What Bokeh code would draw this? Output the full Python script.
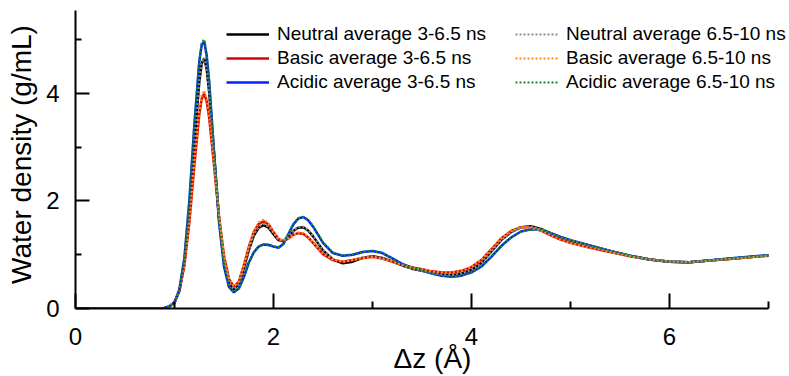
from bokeh.plotting import figure
from bokeh.models import FixedTicker, Range1d, Legend, LegendItem
from bokeh.embed import file_html
from bokeh.resources import INLINE

# Δz grid (Å)
dz = [0.0, 0.5, 0.8, 0.9, 0.95, 1.0, 1.05, 1.1, 1.15, 1.2, 1.25, 1.275, 1.3, 1.325, 1.35,
      1.4, 1.45, 1.5, 1.55, 1.6, 1.65, 1.7, 1.75, 1.8, 1.85, 1.9, 1.95, 2.0, 2.05, 2.1,
      2.15, 2.2, 2.25, 2.3, 2.35, 2.4, 2.5, 2.6, 2.7, 2.8, 2.9, 3.0, 3.1, 3.2, 3.3, 3.4,
      3.5, 3.6, 3.7, 3.8, 3.9, 4.0, 4.1, 4.2, 4.3, 4.4, 4.5, 4.6, 4.7, 4.8, 4.9, 5.0,
      5.2, 5.4, 5.6, 5.8, 6.0, 6.2, 6.4, 6.6, 6.8, 7.0]

neutral_a = [0, 0, 0, 0.01, 0.04, 0.11, 0.33, 0.85, 1.8, 3.05, 4.2, 4.55, 4.65, 4.45, 4.02,
             2.85, 1.68, 0.88, 0.48, 0.36, 0.45, 0.74, 1.08, 1.35, 1.5, 1.55, 1.5, 1.38, 1.27, 1.25,
             1.33, 1.44, 1.5, 1.51, 1.45, 1.34, 1.08, 0.91, 0.84, 0.87, 0.94, 0.97, 0.94, 0.87, 0.8, 0.74,
             0.7, 0.66, 0.63, 0.62, 0.65, 0.72, 0.85, 1.06, 1.27, 1.42, 1.51, 1.53, 1.48, 1.4, 1.32, 1.26,
             1.16, 1.07, 0.98, 0.91, 0.87, 0.86, 0.89, 0.92, 0.95, 0.99]
basic_a = [0, 0, 0, 0.01, 0.04, 0.12, 0.34, 0.8, 1.6, 2.65, 3.6, 3.9, 3.99, 3.85, 3.55,
           2.65, 1.7, 0.98, 0.55, 0.4, 0.5, 0.8, 1.14, 1.42, 1.57, 1.62, 1.56, 1.42, 1.29, 1.25,
           1.3, 1.37, 1.4, 1.39, 1.32, 1.22, 1.01, 0.9, 0.87, 0.9, 0.94, 0.96, 0.93, 0.87, 0.81, 0.76,
           0.73, 0.69, 0.67, 0.67, 0.7, 0.77, 0.9, 1.1, 1.3, 1.44, 1.51, 1.51, 1.45, 1.36, 1.28, 1.22,
           1.13, 1.05, 0.97, 0.91, 0.87, 0.86, 0.89, 0.92, 0.95, 0.98]
acidic_a = [0, 0, 0, 0.01, 0.04, 0.11, 0.36, 0.94, 2.0, 3.4, 4.58, 4.9, 4.96, 4.7, 4.22,
            2.9, 1.6, 0.78, 0.4, 0.3, 0.37, 0.58, 0.85, 1.04, 1.15, 1.19, 1.18, 1.15, 1.13, 1.2,
            1.38, 1.56, 1.67, 1.7, 1.64, 1.52, 1.22, 1.03, 0.98, 1.0, 1.05, 1.07, 1.03, 0.93, 0.83, 0.76,
            0.71, 0.65, 0.61, 0.59, 0.61, 0.67, 0.78, 0.96, 1.16, 1.32, 1.43, 1.47, 1.46, 1.4, 1.33, 1.27,
            1.17, 1.07, 0.98, 0.91, 0.87, 0.86, 0.89, 0.93, 0.96, 0.99]
neutral_b = [0, 0, 0, 0.01, 0.04, 0.11, 0.34, 0.86, 1.82, 3.08, 4.22, 4.57, 4.66, 4.46, 4.04,
             2.86, 1.7, 0.89, 0.48, 0.36, 0.45, 0.75, 1.1, 1.37, 1.52, 1.57, 1.52, 1.4, 1.28, 1.26,
             1.34, 1.45, 1.51, 1.52, 1.46, 1.35, 1.09, 0.92, 0.87, 0.9, 0.95, 0.97, 0.94, 0.87, 0.8, 0.74,
             0.7, 0.66, 0.63, 0.62, 0.65, 0.72, 0.85, 1.06, 1.27, 1.42, 1.51, 1.52, 1.48, 1.4, 1.32, 1.26,
             1.16, 1.07, 0.98, 0.91, 0.87, 0.86, 0.89, 0.92, 0.95, 0.99]
basic_b = [0, 0, 0, 0.01, 0.04, 0.12, 0.35, 0.82, 1.63, 2.7, 3.65, 3.96, 4.05, 3.9, 3.6,
           2.68, 1.72, 0.99, 0.56, 0.41, 0.5, 0.81, 1.16, 1.44, 1.6, 1.65, 1.58, 1.43, 1.3, 1.26,
           1.3, 1.37, 1.41, 1.4, 1.33, 1.23, 1.02, 0.91, 0.87, 0.9, 0.94, 0.95, 0.92, 0.87, 0.81, 0.76,
           0.73, 0.69, 0.67, 0.67, 0.7, 0.77, 0.9, 1.1, 1.3, 1.44, 1.51, 1.5, 1.45, 1.36, 1.28, 1.22,
           1.13, 1.05, 0.97, 0.91, 0.87, 0.86, 0.89, 0.92, 0.95, 0.98]
acidic_b = [0, 0, 0, 0.01, 0.04, 0.11, 0.36, 0.95, 2.02, 3.42, 4.6, 4.93, 5.0, 4.72, 4.24,
            2.92, 1.62, 0.79, 0.4, 0.3, 0.37, 0.58, 0.85, 1.04, 1.15, 1.19, 1.19, 1.16, 1.14, 1.21,
            1.39, 1.57, 1.68, 1.7, 1.65, 1.53, 1.23, 1.04, 0.98, 1.0, 1.05, 1.07, 1.03, 0.93, 0.83, 0.76,
            0.71, 0.65, 0.61, 0.59, 0.61, 0.67, 0.78, 0.96, 1.16, 1.32, 1.43, 1.47, 1.46, 1.4, 1.33, 1.27,
            1.17, 1.07, 0.98, 0.91, 0.87, 0.86, 0.89, 0.93, 0.96, 0.99]

labels_a = ["Neutral average 3-6.5 ns", "Basic average 3-6.5 ns", "Acidic average 3-6.5 ns"]
labels_b = ["Neutral average 6.5-10 ns", "Basic average 6.5-10 ns", "Acidic average 6.5-10 ns"]
colors_a = ["#000000", "#dd0000", "#0022ff"]
colors_b = ["#8c8c8c", "#ff8c1a", "#168a16"]

x_major = [0, 2, 4, 6]
x_minor = [1, 3, 5, 7]
x_axis_end = 7
y_major = [0, 2, 4]
y_minor = [1, 3, 5]
y_axis_end = 5.54

FONT = "Liberation Sans"

# frame spans 714 x 309 px; axes are bounded to the drawn extent
p = figure(width=789, height=376, x_range=Range1d(0, 7.2121), y_range=Range1d(0, 5.722),
           output_backend="svg", toolbar_location=None,
           min_border_left=75, min_border_right=0, min_border_top=0, min_border_bottom=67)
p.outline_line_color = None
p.grid.visible = False

for ax, maj, mnr, tin, tmin, end in ((p.xaxis[0], x_major, x_minor, 15, 7, x_axis_end),
                                     (p.yaxis[0], y_major, y_minor, 14, 6, y_axis_end)):
    ax.ticker = FixedTicker(ticks=maj, minor_ticks=mnr)
    ax.bounds = (0, end)
    ax.axis_line_width = 2
    ax.axis_line_color = "black"
    ax.major_tick_line_width = 2
    ax.minor_tick_line_width = 2
    ax.major_tick_line_color = "black"
    ax.minor_tick_line_color = "black"
    ax.major_tick_in = tin
    ax.major_tick_out = 0
    ax.minor_tick_in = tmin
    ax.minor_tick_out = 0
    ax.major_label_text_font = FONT
    ax.major_label_text_font_size = "24px"
    ax.major_label_text_color = "black"
    ax.axis_label_text_font = FONT
    ax.axis_label_text_font_size = "28px"
    ax.axis_label_text_font_style = "normal"
    ax.axis_label_text_color = "black"

p.xaxis.axis_label = "Δz (Å)"
p.xaxis.major_label_standoff = 19
p.xaxis.axis_label_standoff = -5
p.xaxis.axis_label_text_line_height = 0.75
p.yaxis.axis_label = "Water density (g/mL)"
p.yaxis.major_label_standoff = 16
p.yaxis.axis_label_standoff = 6

series_a = [neutral_a, basic_a, acidic_a]
series_b = [neutral_b, basic_b, acidic_b]

items_a, items_b = [], []
for ys, c, lab in zip(series_a, colors_a, labels_a):
    r = p.line(dz, ys, line_color=c, line_width=2.5)
    items_a.append(LegendItem(label=lab, renderers=[r]))
for ys, c, lab in zip(series_b, colors_b, labels_b):
    r = p.line(dz, ys, line_color=c, line_width=2.2, line_dash="2 2")
    items_b.append(LegendItem(label=lab, renderers=[r]))

for items, loc, standoff in ((items_a, (151, 214), 8), (items_b, (440, 214), 8)):
    leg = Legend(items=items, location=loc, orientation="vertical")
    leg.label_text_font = FONT
    leg.label_text_font_size = "19px"
    leg.label_text_color = "black"
    leg.glyph_width = 43
    leg.glyph_height = 24
    leg.label_height = 24
    leg.label_standoff = standoff
    leg.spacing = 0
    leg.padding = 0
    leg.margin = 0
    leg.border_line_color = None
    leg.background_fill_alpha = 0
    p.add_layout(leg, "center")

open("out.html", "w").write(file_html(p, INLINE))
